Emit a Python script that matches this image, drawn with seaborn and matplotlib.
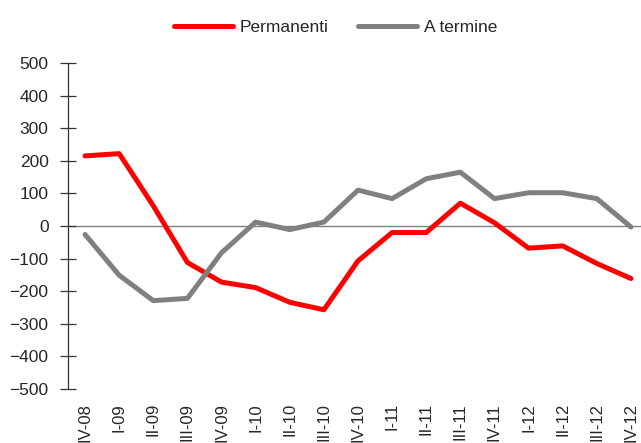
import numpy as np
import pandas as pd
import seaborn as sns
import matplotlib
matplotlib.use('Agg')
import matplotlib.pyplot as plt

trimestri = ['IV-08', 'I-09', 'II-09', 'III-09', 'IV-09', 'I-10', 'II-10', 'III-10',
             'IV-10', 'I-11', 'II-11', 'III-11', 'IV-11', 'I-12', 'II-12', 'III-12', 'IV-12']
permanenti = [215, 222, 62, -112, -172, -189, -234, -257, -107, -20, -20, 70,
              10, -68, -61, -115, -161]
a_termine = [-26, -151, -229, -222, -82, 12, -11, 12, 110, 84, 145, 165,
             84, 102, 102, 84, -3]
serie = ['Permanenti', 'A termine']
colori = ['#ff0000', '#808080']

df = pd.DataFrame({
    'pos': list(range(len(trimestri))) * 2,
    'valore': permanenti + a_termine,
    'serie': [serie[0]] * len(trimestri) + [serie[1]] * len(trimestri),
})

sns.set_style('white')
plt.rcParams['font.family'] = ['Liberation Sans', 'DejaVu Sans']

fig = plt.figure(figsize=(6.41, 4.43), dpi=100)
ax = fig.add_axes([68 / 641, 54 / 443, 580 / 641, 326 / 443])

sns.lineplot(data=df, x='pos', y='valore', hue='serie', hue_order=serie,
             palette=colori, linewidth=3.6, ax=ax, legend=True)

ax.axhline(0, color='#808080', linewidth=1.0, zorder=0)

ax.set_xlim(-0.5, len(trimestri) - 0.5)
ax.set_ylim(-500, 500)
ax.set_yticks(np.arange(-500, 501, 100))
ax.set_xticks(range(len(trimestri)))
ax.set_xticklabels(trimestri, rotation=90, fontsize=12)
ax.set_xlabel('')
ax.set_ylabel('')

for s in ['top', 'right', 'bottom']:
    ax.spines[s].set_visible(False)
ax.spines['left'].set_color('#333333')
ax.spines['left'].set_linewidth(0.9)
ax.tick_params(axis='y', direction='inout', length=12, width=0.9,
               color='#333333', pad=8, labelsize=12.5, left=True)
ax.tick_params(axis='x', length=0, pad=10)

ax.legend_.remove()
handles, labels = ax.get_legend_handles_labels()
fig.legend(handles, labels, loc='center', bbox_to_anchor=(0.524, 0.939),
           ncol=2, frameon=False, fontsize=12.5, handlelength=3.4,
           handletextpad=0.4, columnspacing=1.7)

fig.savefig('out.png', dpi=100)
